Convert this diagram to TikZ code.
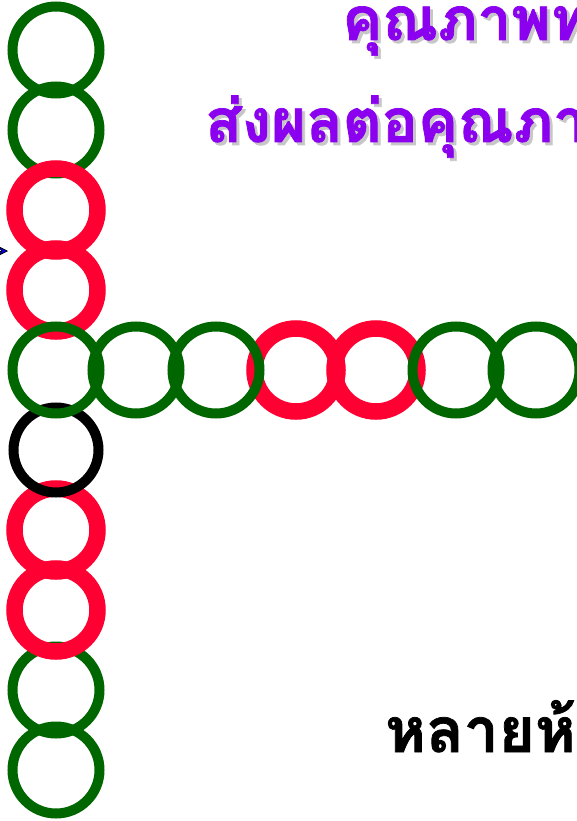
\documentclass[tikz,border=0pt]{standalone}
\usepackage{fontspec}
\newfontfamily\thaifont[Script=Thai, BoldFeatures={FakeBold=1.2}]{Loma}
\usetikzlibrary{arrows.meta}
\definecolor{ringgreen}{RGB}{0,102,0}
\definecolor{ringred}{RGB}{255,0,51}
\definecolor{txtpurple}{RGB}{140,0,240}
\definecolor{arrblue}{RGB}{0,0,220}
\tikzset{
  gring/.style={circle, draw=ringgreen, line width=10pt, minimum size=87pt, inner sep=0pt},
  rring/.style={circle, draw=ringred, line width=16.5pt, minimum size=83pt, inner sep=0pt},
  kring/.style={circle, draw=black, line width=10pt, minimum size=85pt, inner sep=0pt},
  ptext/.style={anchor=base west, inner sep=0pt, text=txtpurple},
  stext/.style={anchor=base west, inner sep=0pt, text=black!22},
}
\begin{document}
\begin{tikzpicture}[x=1pt,y=-1pt]
\useasboundingbox (0,0) rectangle (577,821);
\clip (0,0) rectangle (577,821);
\fill[white] (0,0) rectangle (577,821);
% column greens (behind)
\node[gring] (c9) at (56,690) {};
\node[gring] (c10) at (56,770) {};
\node[gring] (c1) at (56,50) {};
\node[gring] (c2) at (56,130) {};
% reds
\node[rring] (c3) at (56,210) {};
\node[rring] (c4) at (56,290) {};
\node[rring] (c7) at (56,530) {};
\node[rring] (c8) at (56,610) {};
\node[rring] (r4) at (296,370) {};
\node[rring] (r5) at (376,370) {};
% black
\node[kring] (c6) at (56,450) {};
% greens on top
\node[gring] (c5) at (56,370) {};
\node[gring] (r2) at (136,370) {};
\node[gring] (r3) at (216,370) {};
\node[gring] (r6) at (456,370) {};
\node[gring] (r7) at (536,370) {};
% arrow
\coordinate (atail) at (-30,251);
\coordinate (atip) at (8,251);
\draw[line width=0.6pt, black, -{Stealth[length=10pt,width=10pt,fill=arrblue]}] (atail) -- (atip);
% texts
\node[stext, font=\thaifont\bfseries\fontsize{60}{66}\selectfont] (t1s) at (345,43) {คุณภาพท};
\node[ptext, font=\thaifont\bfseries\fontsize{60}{66}\selectfont] (t1) at (342,40) {คุณภาพท};
\node[stext, font=\thaifont\bfseries\fontsize{60}{66}\selectfont] (t2s) at (208,145) {ส่งผลต่อคุณภา};
\node[ptext, font=\thaifont\bfseries\fontsize{60}{66}\selectfont] (t2) at (205,142) {ส่งผลต่อคุณภา};
\node[anchor=base west, inner sep=0pt, font=\thaifont\bfseries\fontsize{62}{68}\selectfont] (t3) at (385,752) {หลายห้};
\end{tikzpicture}
\end{document}
